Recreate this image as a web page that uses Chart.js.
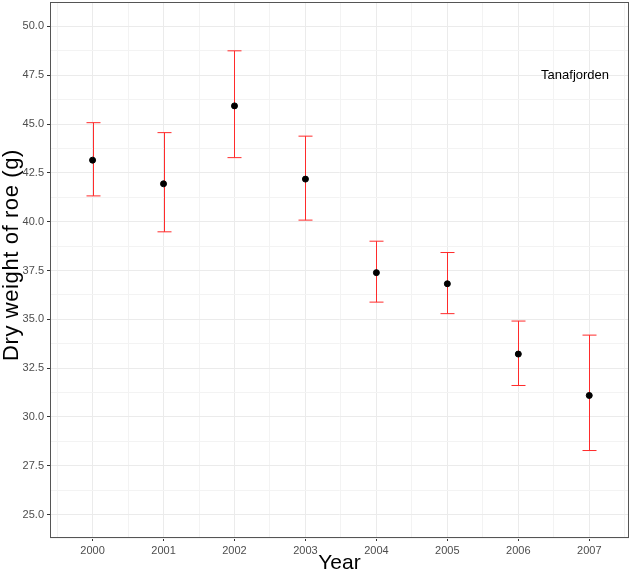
<!DOCTYPE html>
<html>
<head>
<meta charset="utf-8">
<script src="https://cdn.jsdelivr.net/npm/chart.js@4/dist/chart.umd.min.js"></script>
<style>
  html, body { margin: 0; padding: 0; background: #fff; }
  #wrap { width: 629px; height: 574px; }
</style>
</head>
<body>
<div id="wrap"><canvas id="c" width="629" height="574"></canvas></div>
<script>
// Roe dry weight per year, Tanafjorden: mean with lower / upper interval
const years = [2000, 2001, 2002, 2003, 2004, 2005, 2006, 2007];
const meanWeight = [43.15, 41.94, 45.93, 42.18, 37.39, 36.82, 33.22, 31.10];
const lowerWeight = [41.32, 39.48, 43.28, 40.08, 35.88, 35.29, 31.61, 28.28];
const upperWeight = [45.07, 44.56, 48.75, 44.38, 39.00, 38.42, 34.91, 34.19];
const yTickValues = [25, 27.5, 30, 32.5, 35, 37.5, 40, 42.5, 45, 47.5, 50];
const siteLabel = 'Tanafjorden';
const yTitle = 'Dry weight of roe (g)';

const FONT = "'Liberation Sans', Arial, sans-serif";
const TICK_GREY = '#4d4d4d';
const MAJOR_GRID = '#ebebeb';
const MINOR_GRID = '#f3f3f3';

// major ticks plus the halfway (minor) grid positions between them
function withMinor(values, step) {
  const out = [];
  values.forEach((v, i) => {
    if (i === 0) out.push(v - step / 2);
    out.push(v);
    out.push(v + step / 2);
  });
  return out;
}
const xTickAll = withMinor(years, 1);
const yTickAll = withMinor(yTickValues, 2.5);
const isMajorX = v => years.includes(v);
const isMajorY = v => yTickValues.includes(v);

const errorBars = {
  id: 'errorBars',
  beforeDatasetsDraw(chart) {
    const { ctx, scales: { x, y } } = chart;
    ctx.save();
    ctx.strokeStyle = '#ff2b2b';
    ctx.lineWidth = 1;
    years.forEach((yr, i) => {
      const px = Math.round(x.getPixelForValue(yr)) + 0.5;
      const top = y.getPixelForValue(upperWeight[i]);
      const bot = y.getPixelForValue(lowerWeight[i]);
      const half = 7;
      ctx.beginPath();
      ctx.moveTo(px, top); ctx.lineTo(px, bot);
      ctx.moveTo(px - half, top); ctx.lineTo(px + half, top);
      ctx.moveTo(px - half, bot); ctx.lineTo(px + half, bot);
      ctx.stroke();
    });
    ctx.restore();
  }
};

const panelDecor = {
  id: 'panelDecor',
  afterDatasetsDraw(chart) {
    const { ctx, chartArea: a, scales: { x, y } } = chart;
    ctx.save();
    // site label
    ctx.fillStyle = '#000';
    ctx.font = `13px ${FONT}`;
    ctx.textAlign = 'center';
    ctx.textBaseline = 'middle';
    ctx.fillText(siteLabel, x.getPixelForValue(2006.8), y.getPixelForValue(47.47));
    // panel border
    ctx.strokeStyle = '#555';
    ctx.lineWidth = 1;
    ctx.strokeRect(a.left + 0.5, a.top + 0.5, a.right - a.left - 1, a.bottom - a.top - 1);
    ctx.restore();
  },
  afterDraw(chart) {
    // vertical axis title
    const { ctx } = chart;
    ctx.save();
    ctx.translate(12, 255);
    ctx.rotate(-Math.PI / 2);
    ctx.fillStyle = '#000';
    ctx.font = `22px ${FONT}`;
    ctx.letterSpacing = '0.6px';
    ctx.textAlign = 'center';
    ctx.textBaseline = 'middle';
    ctx.fillText(yTitle, 0, 0);
    ctx.restore();
  }
};

new Chart(document.getElementById('c'), {
  type: 'scatter',
  data: {
    datasets: [{
      data: years.map((yr, i) => ({ x: yr, y: meanWeight[i] })),
      backgroundColor: '#000',
      borderColor: '#000',
      pointRadius: 3,
      pointHoverRadius: 3
    }]
  },
  options: {
    responsive: false,
    animation: false,
    events: [],
    layout: { autoPadding: false, padding: { top: 2, right: 0, left: 0, bottom: 0 } },
    plugins: { legend: { display: false }, tooltip: { enabled: false } },
    scales: {
      x: {
        type: 'linear',
        min: 1999.4,
        max: 2007.56,
        afterBuildTicks: s => { s.ticks = xTickAll.map(v => ({ value: v })); },
        afterFit: s => { s.height = 36; s.paddingLeft = 0; s.paddingRight = 0; },
        border: { display: false },
        grid: {
          color: c => (c.tick && isMajorX(c.tick.value)) ? MAJOR_GRID : MINOR_GRID,
          tickColor: c => (c.tick && isMajorX(c.tick.value)) ? '#333' : 'rgba(0,0,0,0)',
          tickLength: 3
        },
        ticks: {
          autoSkip: false,
          maxRotation: 0,
          padding: 3,
          color: TICK_GREY,
          font: { family: FONT, size: 11 },
          callback: v => isMajorX(v) ? String(v) : ''
        },
        title: {
          display: true,
          text: 'Year',
          color: '#000',
          font: { family: FONT, size: 21, lineHeight: 1 },
          padding: { top: 0, bottom: 0 }
        }
      },
      y: {
        type: 'linear',
        min: 23.8,
        max: 51.25,
        afterBuildTicks: s => { s.ticks = yTickAll.map(v => ({ value: v })); },
        afterFit: s => { s.width = 50; s.paddingTop = 0; s.paddingBottom = 0; },
        border: { display: false },
        grid: {
          color: c => (c.tick && isMajorY(c.tick.value)) ? MAJOR_GRID : MINOR_GRID,
          tickColor: c => (c.tick && isMajorY(c.tick.value)) ? '#333' : 'rgba(0,0,0,0)',
          tickLength: 3
        },
        ticks: {
          autoSkip: false,
          padding: 3,
          color: TICK_GREY,
          font: { family: FONT, size: 11 },
          callback: v => isMajorY(v) ? v.toFixed(1) : ''
        }
      }
    }
  },
  plugins: [errorBars, panelDecor]
});
</script>
</body>
</html>
